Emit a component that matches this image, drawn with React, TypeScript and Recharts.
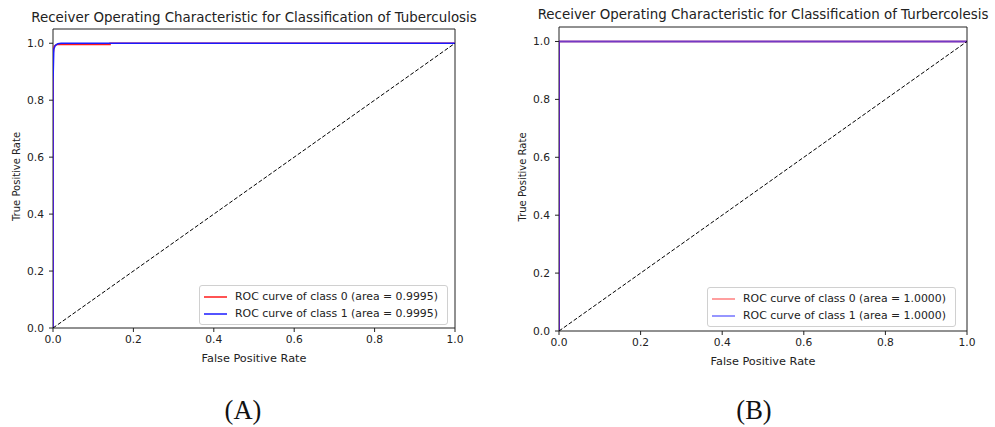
import { LineChart, Line, XAxis, YAxis, ReferenceArea, Legend } from "recharts";

const xTicks = [0, 0.2, 0.4, 0.6, 0.8, 1.0];
const yTicks = [0, 0.2, 0.4, 0.6, 0.8, 1.0];

// dashed chance diagonal
const chanceFpr = [0, 1];
const chanceTpr = [0, 1];

// (A) Tuberculosis
const fprClass0A = [0, 0, 0.003, 0.01, 0.142, 0.142, 1];
const tprClass0A = [0, 0.96, 0.99, 0.996, 0.996, 1, 1];
const fprClass1A = [0, 0, 0.002, 0.006, 0.012, 0.02, 1];
const tprClass1A = [0, 0.86, 0.98, 0.993, 0.998, 1, 1];
const areaA = ["0.9995", "0.9995"];
const titleA = "Receiver Operating Characteristic for Classification of Tuberculosis";

// (B) perfect separation
const fprClass0B = [0, 0, 1];
const tprClass0B = [0, 1, 1];
const fprClass1B = [0, 0, 1];
const tprClass1B = [0, 1, 1];
const areaB = ["1.0000", "1.0000"];
const titleB = "Receiver Operating Characteristic for Classification of Turbercolesis";

const toPoints = (fpr: number[], tpr: number[]) =>
  fpr.map((f, i) => ({ fpr: f, tpr: tpr[i] }));

const INK = "#222";
const CHART_H = 380;

const renderYLabel = (props: any) => {
  const vb = props.viewBox || {};
  const x = vb.x + 3;
  const y = vb.y + vb.height / 2 - 2;
  return (
    <text
      x={x}
      y={y}
      transform={`rotate(-90 ${x} ${y})`}
      textAnchor="middle"
      dominantBaseline="central"
      fontSize={10}
      fill={INK}
    >
      True Positive Rate
    </text>
  );
};

type Curve = { name: string; color: string; width: number; fpr: number[]; tpr: number[] };

const makeLegend = (curves: Curve[]) => () =>
  (
    <div
      style={{
        border: "1px solid #d0d0d0",
        borderRadius: 3,
        background: "rgba(255,255,255,0.8)",
        padding: "2px 9px 2px 4px",
        fontSize: 10.9,
        color: INK,
        whiteSpace: "nowrap",
      }}
    >
      {curves.map((c) => (
        <div key={c.name} style={{ display: "flex", alignItems: "center", height: 17 }}>
          <svg width={23} height={6} style={{ marginRight: 8 }}>
            <line x1={0} y1={3} x2={23} y2={3} stroke={c.color} strokeWidth={1.5} />
          </svg>
          <span>{c.name}</span>
        </div>
      ))}
    </div>
  );

function RocPanel(props: {
  left: number;
  width: number;
  margin: { top: number; right: number; bottom: number; left: number };
  title: string;
  titleTop: number;
  curves: Curve[];
  legendAt: { left: number; top: number };
  caption: string;
  captionX: number;
}) {
  const { left, width, margin, title, titleTop, curves, legendAt, caption, captionX } = props;
  const plotLeft = margin.left + 40;
  const plotWidth = width - plotLeft - margin.right;
  return (
    <div style={{ position: "absolute", left, top: 0, width, height: 427 }}>
      <div
        style={{
          position: "absolute",
          left: plotLeft - 60,
          width: plotWidth + 120,
          top: titleTop,
          textAlign: "center",
          fontSize: 13.4,
          lineHeight: "16px",
          color: INK,
          whiteSpace: "nowrap",
        }}
      >
        {title}
      </div>
      <LineChart width={width} height={CHART_H} margin={margin}>
        <XAxis
          type="number"
          dataKey="fpr"
          domain={[0, 1]}
          ticks={xTicks}
          allowDataOverflow
          tickFormatter={(v: number) => v.toFixed(1)}
          axisLine={false}
          tickLine={{ stroke: INK }}
          tickSize={4}
          tickMargin={3}
          height={34}
          tick={{ fontSize: 10.7, fill: INK }}
          label={{ value: "False Positive Rate", position: "insideBottom", offset: 0, fontSize: 11.3, fill: INK }}
        />
        <YAxis
          type="number"
          dataKey="tpr"
          domain={[0, 1.05]}
          ticks={yTicks}
          allowDataOverflow
          tickFormatter={(v: number) => v.toFixed(1)}
          axisLine={false}
          tickLine={{ stroke: INK }}
          tickSize={4}
          tickMargin={5}
          width={40}
          tick={{ fontSize: 10.7, fill: INK }}
          label={renderYLabel}
        />
        <ReferenceArea x1={0} x2={1} y1={0} y2={1.05} fill="none" stroke={INK} strokeWidth={1} fillOpacity={0} />
        {curves.map((c) => (
          <Line
            key={c.name}
            data={toPoints(c.fpr, c.tpr)}
            dataKey="tpr"
            name={c.name}
            type="linear"
            stroke={c.color}
            strokeWidth={c.width}
            dot={false}
            activeDot={false}
            isAnimationActive={false}
          />
        ))}
        <Line
          data={toPoints(chanceFpr, chanceTpr)}
          dataKey="tpr"
          name="chance"
          type="linear"
          stroke="#000"
          strokeWidth={1}
          strokeDasharray="4 2"
          dot={false}
          activeDot={false}
          legendType="none"
          isAnimationActive={false}
        />
        <Legend
          layout="vertical"
          align="center"
          verticalAlign="middle"
          content={makeLegend(curves)}
          wrapperStyle={{ left: legendAt.left, top: legendAt.top, width: "auto" }}
        />
      </LineChart>
      <div
        style={{
          position: "absolute",
          left: captionX - 50,
          width: 100,
          top: 395,
          textAlign: "center",
          fontFamily: "'Liberation Serif', 'Times New Roman', serif",
          fontSize: 26.5,
          lineHeight: "30px",
          color: "#111",
        }}
      >
        {caption}
      </div>
    </div>
  );
}

export default function App() {
  const curvesA: Curve[] = [
    { name: `ROC curve of class 0 (area = ${areaA[0]})`, color: "#ff1a1a", width: 1.5, fpr: fprClass0A, tpr: tprClass0A },
    { name: `ROC curve of class 1 (area = ${areaA[1]})`, color: "#1a1aff", width: 1.5, fpr: fprClass1A, tpr: tprClass1A },
  ];
  const curvesB: Curve[] = [
    { name: `ROC curve of class 0 (area = ${areaB[0]})`, color: "rgba(255,0,0,0.5)", width: 2, fpr: fprClass0B, tpr: tprClass0B },
    { name: `ROC curve of class 1 (area = ${areaB[1]})`, color: "rgba(0,0,255,0.55)", width: 2, fpr: fprClass1B, tpr: tprClass1B },
  ];
  return (
    <div
      style={{
        position: "absolute",
        left: 0,
        top: 0,
        width: 995,
        height: 427,
        background: "#fff",
        fontFamily: "'DejaVu Sans', sans-serif",
      }}
    >
      <RocPanel
        left={0}
        width={497}
        margin={{ top: 29, right: 42, bottom: 18, left: 13 }}
        title={titleA}
        titleTop={10}
        curves={curvesA}
        legendAt={{ left: 199, top: 285 }}
        caption="(A)"
        captionX={243}
      />
      <RocPanel
        left={497}
        width={498}
        margin={{ top: 27, right: 28, bottom: 15, left: 22 }}
        title={titleB}
        titleTop={7}
        curves={curvesB}
        legendAt={{ left: 210, top: 287 }}
        caption="(B)"
        captionX={257}
      />
    </div>
  );
}
